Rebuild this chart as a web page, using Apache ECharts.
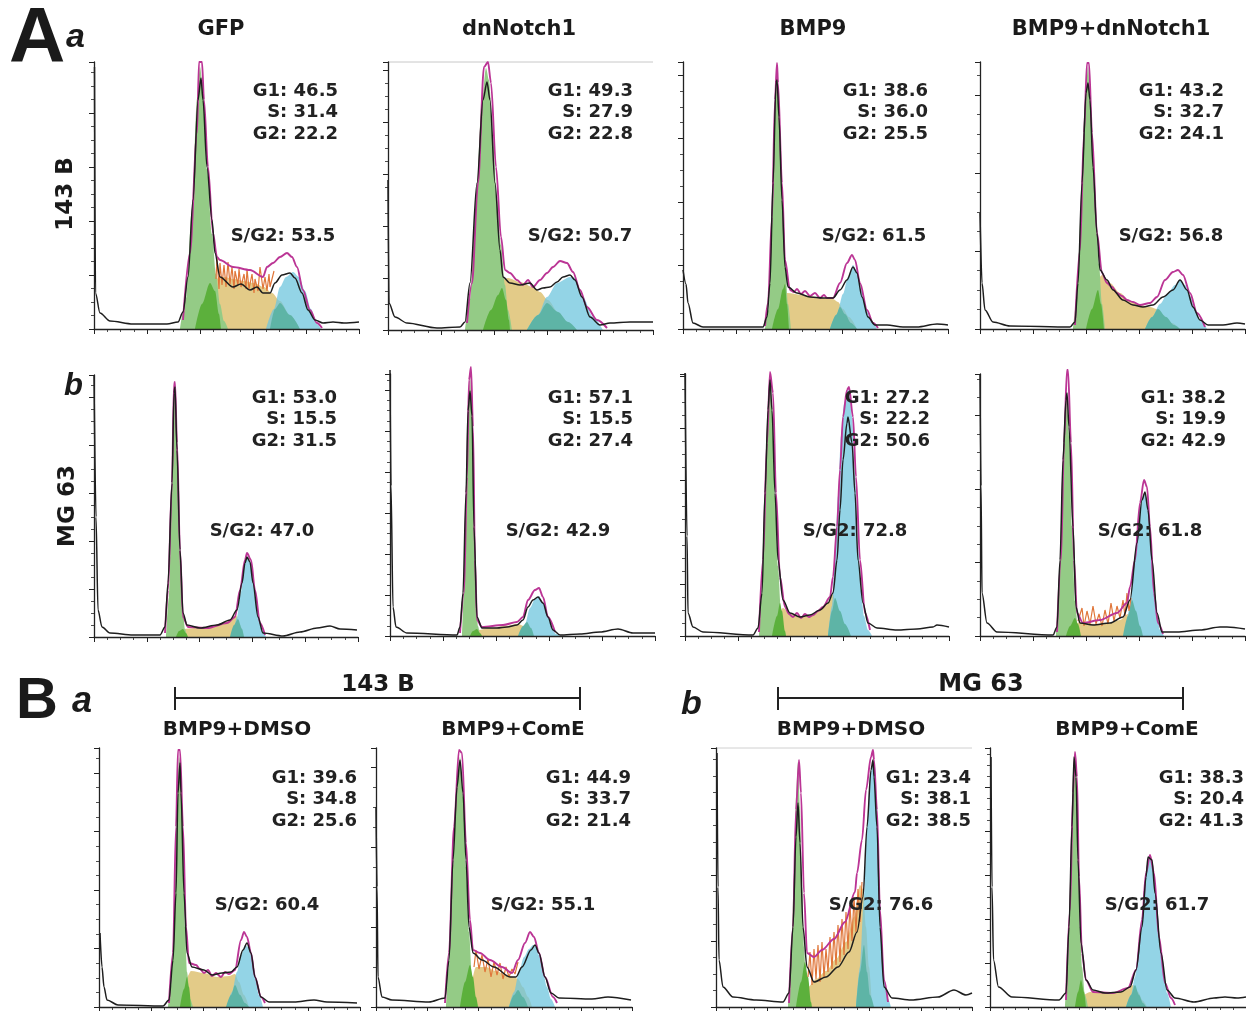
<!DOCTYPE html>
<html><head><meta charset="utf-8">
<script src="https://cdn.jsdelivr.net/npm/echarts@6/dist/echarts.min.js"></script>
<style>html,body{margin:0;padding:0;background:#fff}#c{width:1246px;height:1011px}</style>
</head><body><div id="c"></div>
<script>
// ---- text data ----
const topTitles = ['GFP', 'dnNotch1', 'BMP9', 'BMP9+dnNotch1'];
const bottomTitles = ['BMP9+DMSO', 'BMP9+ComE', 'BMP9+DMSO', 'BMP9+ComE'];
const rowLabels = ['143 B', 'MG 63'];
const g1Pct = [46.5, 49.3, 38.6, 43.2, 53.0, 57.1, 27.2, 38.2, 39.6, 44.9, 23.4, 38.3];
const sPct = [31.4, 27.9, 36.0, 32.7, 15.5, 15.5, 22.2, 19.9, 34.8, 33.7, 38.1, 20.4];
const g2Pct = [22.2, 22.8, 25.5, 24.1, 31.5, 27.4, 50.6, 42.9, 25.6, 21.4, 38.5, 41.3];
const sg2Pct = [53.5, 50.7, 61.5, 56.8, 47.0, 42.9, 72.8, 61.8, 60.4, 55.1, 76.6, 61.7];

// ---- histogram data: [channel, count] ----
// 143B GFP
const a1Blk = [[0.5,262],[1.5,36],[6,16],[16,8],[39,5],[73,5],[84,7],[89,17],[94,52],[99,129],[104,229],[107,251],[109,229],[113,162],[118,109],[121,76],[126,52],[139,42],[147,45],[156,39],[163,42],[169,36],[176,36],[181,46],[188,54],[196,56],[201,51],[208,36],[214,19],[221,9],[229,6],[239,7],[250,6],[265,7]];
const a1Fit = [[89,9],[96,76],[103,196],[105,267],[108,267],[110,229],[114,162],[119,96],[123,72],[126,69],[139,62],[156,59],[169,52],[173,62],[179,66],[186,72],[193,76],[198,72],[203,62],[209,39],[216,19],[223,6],[228,1]];
const a1G1 = [[86,0],[92,30],[98,120],[103,230],[106,262],[109,240],[113,160],[118,95],[122,55],[126,25],[130,8],[134,0]];
const a1S = [[99,0],[105,22],[112,40],[120,50],[130,52],[140,50],[150,48],[160,46],[170,42],[178,36],[186,28],[196,14],[206,0]];
const a1G2 = [[172,0],[180,20],[186,42],[192,52],[199,57],[205,52],[211,38],[217,20],[223,5],[227,0]];
const a1Ov1 = [[101,0],[108,25],[116,46],[121,38],[125,15],[127,0]];
const a1Ov2 = [[176,0],[181,20],[186,26],[196,14],[206,0]];
const a1Noise = [[122,50],[123,72],[125,40],[126,66],[128,44],[130,64],[132,42],[134,67],[136,45],[138,62],[140,40],[141,58],[144,44],[145,60],[147,42],[150,55],[152,40],[153,60],[155,40],[158,55],[160,36],[161,50],[164,38],[166,62],[169,40],[171,52],[173,38],[175,55],[176,42],[180,58]];
// 143B dnNotch1
const a2Blk = [[0,150],[1,27],[7,13],[19,7],[49,2],[72,3],[77,8],[82,47],[89,147],[95,230],[99,248],[102,230],[107,147],[112,80],[115,53],[122,47],[132,45],[142,47],[149,40],[155,42],[162,43],[169,48],[175,53],[182,55],[187,50],[194,33],[202,13],[212,5],[222,7],[242,8],[265,8]];
const a2Fit = [[79,7],[84,47],[90,147],[96,263],[100,268],[103,247],[108,163],[113,93],[117,60],[122,57],[129,50],[135,45],[140,50],[145,43],[152,50],[159,57],[165,63],[172,69],[179,67],[185,58],[192,40],[199,23],[209,10],[219,2]];
const a2G1 = [[77,0],[82,30],[88,130],[94,230],[98,262],[101,250],[105,190],[109,130],[113,85],[117,45],[120,20],[124,0]];
const a2S = [[95,0],[102,30],[110,48],[120,52],[132,48],[145,43],[152,38],[160,30],[170,18],[180,8],[189,0]];
const a2G2 = [[139,0],[150,15],[159,33],[169,47],[182,53],[187,52],[195,33],[205,13],[215,0]];
const a2Ov1 = [[95,0],[103,20],[110,35],[114,42],[118,30],[121,10],[122,0]];
const a2Ov2 = [[139,0],[150,15],[159,27],[170,18],[180,8],[189,0]];
const a2Noise = [];
// 143B BMP9
const a3Blk = [[0,59],[3,45],[5,26],[10,6],[20,2],[80,2],[84,12],[87,46],[90,146],[93,246],[94,249],[96,212],[99,129],[102,62],[105,42],[114,36],[127,32],[140,31],[150,31],[157,39],[164,49],[170,62],[174,56],[179,32],[185,12],[192,4],[204,4],[220,2],[234,2],[254,5],[265,4]];
const a3Fit = [[82,3],[85,26],[89,112],[92,229],[94,266],[95,246],[99,146],[102,69],[107,39],[111,37],[114,40],[118,35],[122,38],[127,33],[132,36],[137,31],[141,34],[144,31],[150,31],[157,46],[164,66],[169,74],[172,69],[177,46],[184,19],[190,6],[195,1]];
const a3G1 = [[82,0],[86,20],[89,100],[92,220],[94,262],[96,220],[99,140],[102,70],[105,25],[108,0]];
const a3S = [[98,0],[101,25],[104,36],[120,34],[140,31],[150,30],[155,27],[160,20],[166,12],[174,0]];
const a3G2 = [[147,0],[154,15],[160,35],[165,52],[170,64],[174,58],[178,40],[183,20],[188,8],[194,0]];
const a3Ov1 = [[89,0],[95,20],[100,40],[102,45],[104,25],[106,0]];
const a3Ov2 = [[147,0],[153,14],[157,22],[162,15],[168,6],[174,0]];
const a3Noise = [];
// 143B BMP9+dnNotch1
const a4Blk = [[0,116],[2,46],[5,19],[13,7],[30,3],[90,2],[95,7],[98,46],[102,146],[106,236],[108,246],[110,229],[113,162],[117,96],[120,59],[127,49],[133,39],[143,29],[153,24],[163,22],[173,24],[183,32],[193,39],[200,49],[207,39],[213,22],[220,9],[228,4],[243,4],[257,6],[265,5]];
const a4Fit = [[95,4],[100,79],[104,196],[107,266],[109,266],[112,196],[117,96],[122,56],[127,46],[132,42],[137,36],[142,33],[147,29],[153,27],[160,24],[170,26],[177,32],[185,49],[193,57],[198,59],[203,54],[210,36],[217,16],[225,2]];
const a4G1 = [[93,0],[97,30],[101,120],[105,225],[108,262],[111,215],[115,130],[119,65],[122,25],[125,0]];
const a4S = [[105,0],[112,30],[118,50],[122,54],[130,46],[140,36],[150,28],[160,24],[170,22],[177,20],[183,14],[192,6],[200,0]];
const a4G2 = [[165,0],[172,12],[180,25],[188,36],[195,44],[200,49],[205,44],[210,33],[215,20],[220,9],[227,0]];
const a4Ov1 = [[106,0],[112,20],[118,39],[121,25],[124,0]];
const a4Ov2 = [[165,0],[172,12],[178,20],[186,12],[194,4],[200,0]];
const a4Noise = [];
// MG63 GFP
const b1Blk = [[0,262],[2,120],[4,27],[8,10],[16,4],[39,2],[66,2],[71,10],[74,54],[78,154],[80,244],[81,250],[83,187],[86,87],[89,24],[93,12],[106,9],[123,12],[136,17],[143,27],[148,54],[151,74],[153,80],[156,75],[159,54],[164,20],[169,4],[189,1],[206,5],[223,9],[236,11],[246,8],[263,7]];
const b1Fit = [[71,4],[74,47],[78,154],[80,254],[81,255],[83,194],[86,87],[89,20],[94,10],[113,9],[133,14],[141,20],[146,47],[151,77],[153,84],[157,77],[161,47],[166,14],[171,2]];
const b1G1 = [[72,0],[75,40],[78,150],[80,240],[81,250],[83,185],[86,85],[89,25],[91,8],[93,0]];
const b1S = [[86,0],[90,8],[100,9],[120,11],[135,16],[142,22],[146,12],[150,0]];
const b1G2 = [[139,0],[143,20],[147,45],[150,70],[153,80],[156,75],[159,54],[162,35],[165,18],[168,6],[172,0]];
const b1Ov1 = [[82,0],[85,6],[89,8],[92,4],[94,0]];
const b1Ov2 = [[136,0],[140,12],[144,18],[148,8],[150,0]];
const b1Noise = [];
// MG63 dnNotch1
const b2Blk = [[0,266],[1,150],[3,29],[6,9],[17,3],[67,1],[70,9],[73,43],[76,143],[78,225],[80,245],[82,220],[84,109],[87,19],[92,8],[107,8],[117,9],[127,11],[133,16],[138,29],[143,36],[148,39],[153,33],[158,19],[163,6],[170,1],[190,2],[210,4],[228,7],[243,3],[265,3]];
const b2Fit = [[70,3],[74,43],[77,159],[79,256],[81,269],[83,209],[85,76],[87,16],[92,9],[113,11],[127,14],[133,19],[138,36],[145,46],[149,48],[153,39],[158,19],[165,4]];
const b2G1 = [[72,0],[75,60],[77,150],[79,245],[80,262],[82,220],[84,110],[86,40],[88,10],[90,0]];
const b2S = [[84,0],[88,6],[100,8],[115,10],[128,12],[134,10],[138,5],[141,0]];
const b2G2 = [[130,0],[135,12],[140,28],[145,37],[149,40],[153,33],[158,19],[162,8],[166,2],[170,0]];
const b2Ov1 = [[80,0],[83,5],[87,7],[90,3],[92,0]];
const b2Ov2 = [[128,0],[133,10],[137,14],[141,8],[144,0]];
const b2Noise = [];
// MG63 BMP9
const b3Blk = [[0,263],[2,100],[3,23],[8,9],[18,4],[68,1],[73,8],[77,43],[80,143],[83,226],[85,256],[87,226],[90,143],[93,76],[98,36],[105,23],[115,19],[125,21],[135,26],[143,33],[148,43],[152,76],[155,126],[158,176],[162,213],[163,219],[167,193],[170,143],[173,76],[178,33],[183,13],[192,8],[212,6],[232,7],[248,9],[252,11],[264,9]];
const b3Fit = [[74,4],[78,76],[82,193],[85,264],[88,243],[91,143],[95,59],[100,29],[104,22],[108,19],[112,23],[116,18],[120,22],[124,19],[128,21],[133,25],[138,29],[145,39],[148,59],[152,109],[155,166],[158,219],[162,246],[164,249],[168,219],[171,159],[175,76],[180,23],[185,6]];
const b3G1 = [[74,0],[77,40],[80,140],[83,230],[85,256],[87,230],[90,140],[93,70],[96,25],[99,6],[101,0]];
const b3S = [[88,0],[93,20],[98,28],[105,22],[115,19],[125,20],[135,26],[143,33],[148,42],[151,30],[155,15],[160,0]];
const b3G2 = [[143,0],[147,30],[150,80],[153,140],[156,200],[159,232],[162,245],[164,246],[167,220],[170,160],[173,90],[176,45],[179,20],[183,6],[187,0]];
const b3Ov1 = [[87,0],[92,20],[95,33],[97,25],[100,5],[101,0]];
const b3Ov2 = [[143,0],[147,25],[150,38],[155,25],[160,12],[166,0]];
const b3Noise = [];
// MG63 BMP9+dnNotch1
const b4Blk = [[0,262],[1,150],[2,43],[7,13],[17,4],[73,1],[77,9],[80,76],[83,176],[86,236],[87,243],[89,209],[93,109],[96,29],[100,13],[113,11],[130,13],[143,19],[150,36],[157,93],[162,136],[165,144],[168,126],[172,76],[177,23],[182,4],[197,4],[220,6],[240,9],[247,9],[265,7]];
const b4Fit = [[77,4],[81,76],[84,193],[87,266],[88,266],[91,193],[94,76],[97,23],[103,13],[120,16],[137,23],[147,33],[150,49],[155,76],[160,133],[164,156],[167,149],[170,109],[174,43],[178,13],[183,2]];
const b4G1 = [[76,0],[79,40],[82,140],[85,225],[87,240],[89,200],[92,110],[95,35],[98,8],[100,0]];
const b4S = [[90,0],[95,12],[100,14],[115,12],[130,13],[140,16],[148,22],[153,18],[158,8],[162,0]];
const b4G2 = [[145,0],[150,30],[154,70],[157,100],[160,128],[163,140],[165,143],[168,126],[171,90],[174,45],[177,20],[180,6],[184,0]];
const b4Ov1 = [[86,0],[90,10],[95,18],[98,12],[101,0]];
const b4Ov2 = [[143,0],[148,20],[152,36],[156,25],[160,10],[163,0]];
const b4Noise = [[98,15],[102,28],[104,10],[107,25],[110,12],[113,30],[116,12],[119,22],[122,10],[125,26],[128,12],[131,33],[134,15],[137,30],[140,18],[143,36],[145,20],[147,43],[149,25],[151,38]];
// 143B BMP9+DMSO
const c1Blk = [[1,74],[3,40],[5,20],[8,7],[19,2],[64,1],[70,7],[74,47],[77,114],[79,214],[81,244],[82,214],[85,114],[88,54],[93,40],[105,37],[113,32],[123,34],[132,35],[138,40],[144,57],[148,64],[152,54],[156,30],[162,10],[170,5],[195,5],[215,7],[228,5],[258,4]];
const c1Fit = [[70,4],[74,54],[77,180],[79,257],[81,257],[84,180],[87,80],[90,44],[97,42],[101,38],[105,34],[109,37],[113,31],[117,34],[122,30],[126,35],[130,33],[136,37],[142,67],[145,75],[148,70],[152,54],[156,30],[162,10],[166,4]];
const c1G1 = [[69,0],[72,20],[75,80],[78,190],[80,250],[82,240],[84,160],[86,80],[88,35],[91,8],[94,0]];
const c1S = [[84,0],[88,30],[92,36],[105,34],[118,30],[130,31],[136,33],[140,25],[145,12],[150,0]];
const c1G2 = [[128,0],[133,15],[138,35],[142,52],[146,62],[149,60],[152,52],[156,30],[160,12],[164,0]];
const c1Ov1 = [[81,0],[85,18],[88,30],[90,20],[92,0]];
const c1Ov2 = [[127,0],[132,12],[136,22],[141,12],[146,4],[150,0]];
const c1Noise = [];
// 143B BMP9+ComE
const c2Blk = [[0,200],[1,120],[2,30],[6,10],[16,7],[53,5],[69,9],[73,47],[77,147],[81,220],[84,247],[87,214],[90,147],[93,80],[97,54],[106,47],[118,40],[134,30],[140,30],[146,40],[155,57],[159,62],[163,54],[169,30],[175,14],[183,9],[216,8],[232,10],[255,7]];
const c2Fit = [[69,4],[73,54],[78,180],[83,257],[86,254],[90,164],[94,87],[97,57],[104,54],[114,47],[126,40],[136,34],[142,47],[149,64],[154,75],[158,70],[163,54],[169,30],[177,10],[181,4]];
const c2G1 = [[70,0],[73,40],[77,140],[81,220],[84,250],[87,210],[90,140],[93,75],[96,30],[99,8],[102,0]];
const c2S = [[90,0],[95,25],[100,40],[110,40],[120,36],[130,32],[138,30],[142,28],[147,20],[152,10],[156,0]];
const c2G2 = [[133,0],[138,15],[143,35],[148,50],[153,58],[157,62],[160,60],[163,52],[167,35],[171,20],[175,8],[179,0]];
const c2Ov1 = [[84,0],[89,25],[94,42],[97,30],[100,10],[102,0]];
const c2Ov2 = [[133,0],[138,12],[142,17],[147,10],[152,0]];
const c2Noise = [[98,40],[100,57],[103,38],[106,52],[109,35],[112,48],[115,30],[118,45],[121,32],[124,44],[127,28],[130,40],[133,30],[136,38],[139,33],[142,45]];
// MG63 BMP9+DMSO
const d1Blk = [[1,254],[2,120],[3,47],[7,20],[17,10],[40,7],[67,5],[73,14],[77,80],[80,170],[82,204],[84,164],[87,80],[91,40],[98,25],[110,30],[122,40],[133,55],[141,75],[147,110],[151,180],[155,237],[157,247],[158,230],[161,180],[164,80],[168,20],[176,9],[195,7],[222,10],[238,17],[250,12],[256,14]];
const d1Fit = [[73,4],[77,80],[80,197],[83,247],[85,214],[88,114],[91,54],[98,50],[106,57],[118,68],[129,85],[139,115],[141,134],[146,167],[150,217],[155,250],[157,257],[158,247],[161,197],[164,97],[168,27],[172,5]];
const d1G1 = [[72,0],[75,40],[78,130],[80,210],[82,245],[84,200],[86,120],[88,60],[90,25],[93,0]];
const d1S = [[88,0],[92,20],[100,28],[110,36],[120,48],[130,65],[138,90],[144,122],[147,118],[150,80],[153,40],[156,0]];
const d1G2 = [[140,0],[144,40],[148,110],[151,180],[154,230],[157,245],[159,240],[161,200],[163,130],[166,60],[169,25],[172,8],[175,0]];
const d1Ov1 = [[80,0],[85,25],[89,45],[92,30],[95,5],[96,0]];
const d1Ov2 = [[140,0],[144,35],[148,62],[151,35],[154,12],[158,0]];
const d1Noise = [[92,30],[94,55],[96,22],[98,58],[100,28],[102,62],[104,25],[106,65],[108,30],[110,58],[112,35],[114,70],[116,38],[118,75],[120,42],[122,82],[124,45],[126,88],[128,52],[130,95],[132,58],[134,102],[136,66],[138,110],[140,75],[142,118],[144,85],[146,125]];
// MG63 BMP9+ComE
const d2Blk = [[1,250],[2,120],[3.5,47],[8.5,20],[22,10],[69,7],[76,14],[79,80],[82,180],[84,250],[86,230],[88,147],[91,64],[96,27],[103,17],[115,14],[131,15],[140,20],[146,37],[152,80],[156,130],[158,150],[162,147],[165,114],[171,54],[177,17],[185,9],[204,5],[224,9],[235,10],[247,9],[256,10]];
const d2Fit = [[76,7],[80,97],[83,214],[85,255],[87,230],[89,130],[92,54],[96,27],[103,15],[123,14],[138,19],[146,37],[152,87],[156,134],[160,152],[164,134],[169,70],[175,24],[181,9],[185,2]];
const d2G1 = [[75,0],[78,40],[81,150],[84,245],[86,232],[88,150],[90,80],[92,40],[95,12],[98,0]];
const d2S = [[88,0],[93,12],[100,15],[115,14],[130,15],[138,18],[143,22],[148,15],[153,6],[157,0]];
const d2G2 = [[136,0],[141,12],[145,30],[149,60],[152,90],[155,125],[158,148],[161,148],[164,130],[167,100],[170,65],[174,30],[177,14],[181,0]];
const d2Ov1 = [[85,0],[88,15],[91,27],[94,15],[96,0]];
const d2Ov2 = [[136,0],[141,12],[145,22],[149,12],[153,4],[156,0]];
const d2Noise = [];

// ---- assembly ----
const blkSets = [a1Blk,a2Blk,a3Blk,a4Blk,b1Blk,b2Blk,b3Blk,b4Blk,c1Blk,c2Blk,d1Blk,d2Blk];
const fitSets = [a1Fit,a2Fit,a3Fit,a4Fit,b1Fit,b2Fit,b3Fit,b4Fit,c1Fit,c2Fit,d1Fit,d2Fit];
const g1Sets = [a1G1,a2G1,a3G1,a4G1,b1G1,b2G1,b3G1,b4G1,c1G1,c2G1,d1G1,d2G1];
const sSets = [a1S,a2S,a3S,a4S,b1S,b2S,b3S,b4S,c1S,c2S,d1S,d2S];
const g2Sets = [a1G2,a2G2,a3G2,a4G2,b1G2,b2G2,b3G2,b4G2,c1G2,c2G2,d1G2,d2G2];
const ov1Sets = [a1Ov1,a2Ov1,a3Ov1,a4Ov1,b1Ov1,b2Ov1,b3Ov1,b4Ov1,c1Ov1,c2Ov1,d1Ov1,d2Ov1];
const ov2Sets = [a1Ov2,a2Ov2,a3Ov2,a4Ov2,b1Ov2,b2Ov2,b3Ov2,b4Ov2,c1Ov2,c2Ov2,d1Ov2,d2Ov2];
const noiseSets = [a1Noise,a2Noise,a3Noise,a4Noise,b1Noise,b2Noise,b3Noise,b4Noise,c1Noise,c2Noise,d1Noise,d2Noise];

// layout (pixels): left, bottom, width, height, y tick step, stats right x, stats y, S/G2 center x, S/G2 y
const layout = [
  {l:94,b:329,w:265,h:267,yt:54,tx:338,ty:91,sx:283,sy:236},
  {l:388,b:330,w:265,h:268,yt:52,tx:633,ty:91,sx:580,sy:236},
  {l:683,b:329,w:265,h:267,yt:63.5,tx:928,ty:91,sx:874,sy:236},
  {l:980,b:329,w:265,h:267,yt:78,tx:1224,ty:91,sx:1171,sy:236},
  {l:94,b:637,w:264,h:262,yt:48,tx:337,ty:398,sx:262,sy:531},
  {l:390,b:636,w:265,h:262,yt:41,tx:633,ty:398,sx:558,sy:531},
  {l:685,b:636,w:264,h:262,yt:52,tx:930,ty:398,sx:855,sy:531},
  {l:980,b:636,w:265,h:262,yt:73.5,tx:1226,ty:398,sx:1150,sy:531},
  {l:99,b:1007,w:261,h:259,yt:58.5,tx:357,ty:778,sx:267,sy:905},
  {l:376,b:1007,w:256,h:259,yt:80,tx:631,ty:778,sx:543,sy:905},
  {l:716,b:1007,w:256,h:259,yt:66,tx:971,ty:778,sx:881,sy:905},
  {l:990,b:1007,w:256,h:259,yt:44,tx:1244,ty:778,sx:1157,sy:905}
];
const COL = {g1:'#94cb86', ov1:'#5cb03c', s:'#e3cb88', g2:'#6fc5dd', ov2:'#5eb4a6', noise:'#e0763a', fit:'#bb3595', blk:'#1e1e1e', axis:'#222'};
const FONT = '"DejaVu Sans", "Liberation Sans", sans-serif';

const grids = [], xAxes = [], yAxes = [], series = [], graphics = [];
layout.forEach((L, i) => {
  grids.push({left:L.l, top:L.b - L.h, width:L.w, height:L.h, containLabel:false});
  const common = {gridIndex:i, type:'value', min:0, z:10,
    axisLine:{show:true, onZero:false, lineStyle:{color:COL.axis, width:1.3}},
    axisTick:{show:true, length:5, lineStyle:{color:COL.axis, width:1}},
    minorTick:{show:true, splitNumber:4, length:3, lineStyle:{color:COL.axis, width:0.8}},
    axisLabel:{show:false}, splitLine:{show:false}};
  xAxes.push(Object.assign({}, common, {max:L.w, interval:L.w/5}));
  yAxes.push(Object.assign({}, common, {max:L.h, interval:L.yt}));
  const base = {type:'line', xAxisIndex:i, yAxisIndex:i, symbol:'none', showSymbol:false, clip:false, silent:true, smoothMonotone:'x'};
  const area = (data, color, z, op) => Object.assign({}, base, {data, smooth:0.3, z, lineStyle:{width:0, opacity:0}, areaStyle:{color, opacity:op}});
  series.push(area(sSets[i], COL.s, 2, 1));
  series.push(area(g1Sets[i], COL.g1, 3, 1));
  series.push(area(g2Sets[i], COL.g2, 4, 0.75));
  series.push(area(ov1Sets[i], COL.ov1, 5, 1));
  series.push(area(ov2Sets[i], COL.ov2, 5, 1));
  if (noiseSets[i].length) series.push(Object.assign({}, base, {data:noiseSets[i], smooth:false, z:6, lineStyle:{color:COL.noise, width:1.2}}));
  series.push(Object.assign({}, base, {data:fitSets[i], smooth:0.3, z:7, lineStyle:{color:COL.fit, width:1.9}}));
  series.push(Object.assign({}, base, {data:blkSets[i], smooth:0.3, z:8, lineStyle:{color:COL.blk, width:1.5}}));
  const lines = ['G1: ' + g1Pct[i].toFixed(1), 'S: ' + sPct[i].toFixed(1), 'G2: ' + g2Pct[i].toFixed(1)];
  lines.forEach((t, k) => graphics.push({type:'text', x:L.tx, y:L.ty + k*21.5, z:100,
    style:{text:t, fill:'#222', font:'bold 18px ' + FONT, align:'right', verticalAlign:'middle'}}));
  graphics.push({type:'text', x:L.sx, y:L.sy, z:100,
    style:{text:'S/G2: ' + sg2Pct[i].toFixed(1), fill:'#222', font:'bold 18px ' + FONT, align:'center', verticalAlign:'middle'}});
});

function txt(t, x, y, font, align, rot) {
  const g = {type:'text', x, y, z:100, style:{text:t, fill:'#1a1a1a', font, align:align || 'center', verticalAlign:'middle'}};
  if (rot) g.rotation = rot;
  return g;
}
const titleX = [221, 519, 813, 1111];
topTitles.forEach((t, i) => graphics.push(txt(t, titleX[i], 30, 'bold 21px ' + FONT)));
const subX = [237, 513, 851, 1127];
bottomTitles.forEach((t, i) => graphics.push(txt(t, subX[i], 730, 'bold 20px ' + FONT)));
graphics.push(txt('A', 9, 40, 'bold 78px "Liberation Sans", Arial, sans-serif', 'left'));
graphics.push(txt('a', 66, 38, 'italic bold 34px "Liberation Sans", Arial, sans-serif', 'left'));
graphics.push(txt('b', 64, 386, 'italic bold 31px "Liberation Sans", Arial, sans-serif', 'left'));
graphics.push(txt('B', 16, 702, 'bold 58px "Liberation Sans", Arial, sans-serif', 'left'));
graphics.push(txt('a', 72, 702, 'italic bold 36px "Liberation Sans", Arial, sans-serif', 'left'));
graphics.push(txt('b', 681, 705, 'italic bold 34px "Liberation Sans", Arial, sans-serif', 'left'));
graphics.push(txt(rowLabels[0], 66, 194, 'bold 23px ' + FONT, 'center', Math.PI/2));
graphics.push(txt(rowLabels[1], 68, 506, 'bold 23px ' + FONT, 'center', Math.PI/2));
graphics.push(txt(rowLabels[0], 378, 685, 'bold 23px ' + FONT));
graphics.push(txt(rowLabels[1], 981, 685, 'bold 24px ' + FONT));
[[175,580],[778,1183]].forEach(([x1,x2]) => {
  graphics.push({type:'line', z:100, shape:{x1, y1:698, x2, y2:698}, style:{stroke:'#222', lineWidth:2}});
  graphics.push({type:'line', z:100, shape:{x1, y1:687, x2:x1, y2:710}, style:{stroke:'#222', lineWidth:2}});
  graphics.push({type:'line', z:100, shape:{x1:x2, y1:687, x2, y2:710}, style:{stroke:'#222', lineWidth:2}});
});
graphics.push({type:'line', z:1, shape:{x1:388, y1:62, x2:653, y2:62}, style:{stroke:'#c8c8c8', lineWidth:1}});
graphics.push({type:'line', z:1, shape:{x1:716, y1:748, x2:972, y2:748}, style:{stroke:'#d0d0d0', lineWidth:1}});

const chart = echarts.init(document.getElementById('c'), null, {renderer:'canvas'});
chart.setOption({animation:false, backgroundColor:'#fff', grid:grids, xAxis:xAxes, yAxis:yAxes, series, graphic:{elements:graphics}});
</script>
</body></html>
